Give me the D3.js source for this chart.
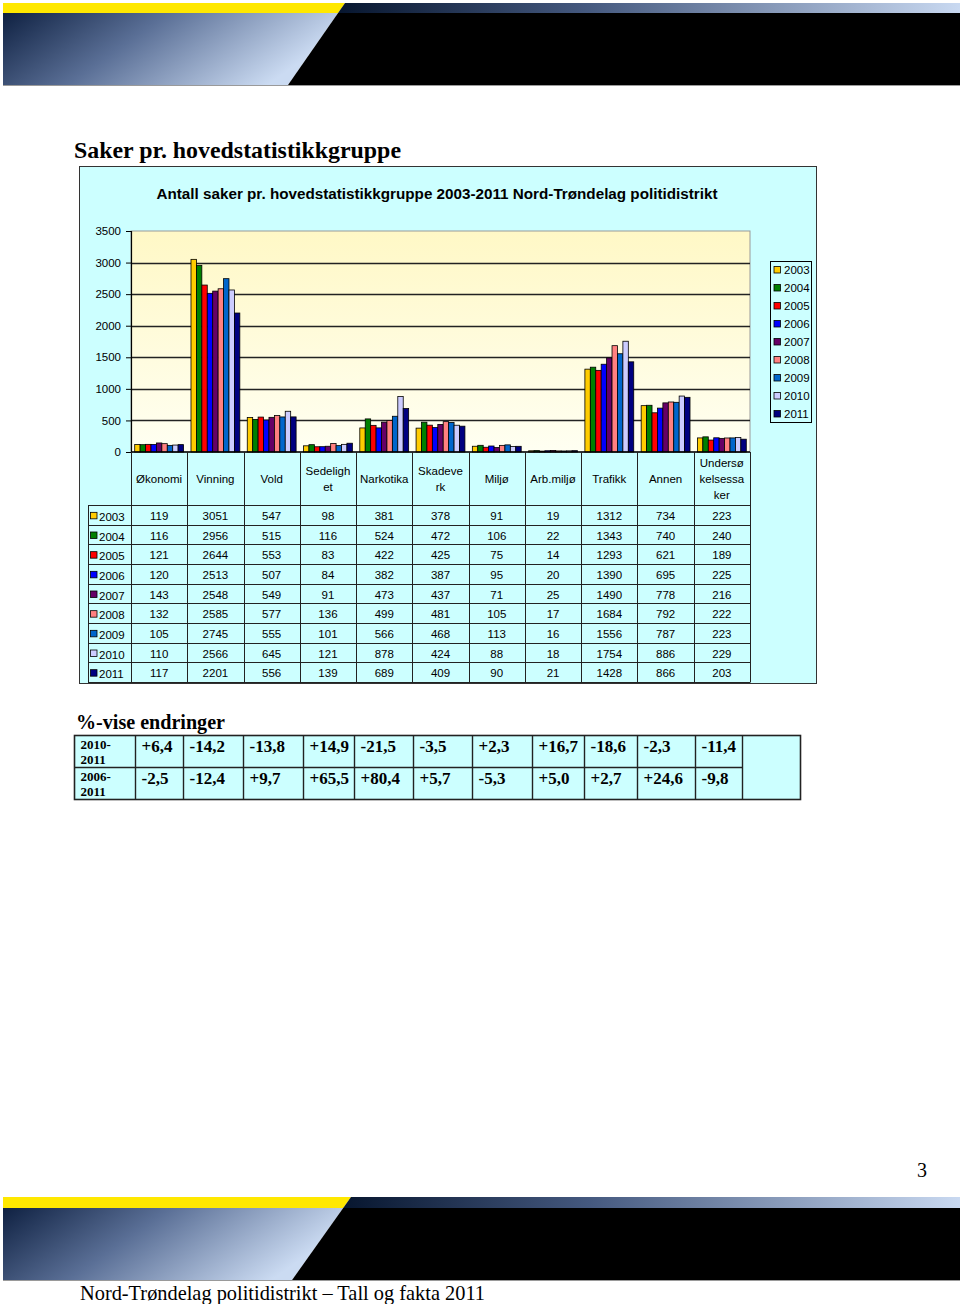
<!DOCTYPE html>
<html>
<head>
<meta charset="utf-8">
<script src="https://cdn.jsdelivr.net/npm/d3@7/dist/d3.min.js"></script>
<style>
  html, body { margin: 0; padding: 0; background: #ffffff; }
  svg { display: block; }
</style>
</head>
<body>
<svg id="page" width="960" height="1304"></svg>
<script>
// ---------------- DATA ----------------
const categories = ["Økonomi", "Vinning", "Vold", "Sedelighet", "Narkotika", "Skadeverk", "Miljø", "Arb.miljø", "Trafikk", "Annen", "Undersøkelsessaker"];
const categoryLabelLines = [["Økonomi"], ["Vinning"], ["Vold"], ["Sedeligh", "et"], ["Narkotika"], ["Skadeve", "rk"], ["Miljø"], ["Arb.miljø"], ["Trafikk"], ["Annen"], ["Undersø", "kelsessa", "ker"]];
const years = ["2003", "2004", "2005", "2006", "2007", "2008", "2009", "2010", "2011"];

const values2003 = [119, 3051, 547, 98, 381, 378, 91, 19, 1312, 734, 223];
const values2004 = [116, 2956, 515, 116, 524, 472, 106, 22, 1343, 740, 240];
const values2005 = [121, 2644, 553, 83, 422, 425, 75, 14, 1293, 621, 189];
const values2006 = [120, 2513, 507, 84, 382, 387, 95, 20, 1390, 695, 225];
const values2007 = [143, 2548, 549, 91, 473, 437, 71, 25, 1490, 778, 216];
const values2008 = [132, 2585, 577, 136, 499, 481, 105, 17, 1684, 792, 222];
const values2009 = [105, 2745, 555, 101, 566, 468, 113, 16, 1556, 787, 223];
const values2010 = [110, 2566, 645, 121, 878, 424, 88, 18, 1754, 886, 229];
const values2011 = [117, 2201, 556, 139, 689, 409, 90, 21, 1428, 866, 203];
const seriesValues = [values2003, values2004, values2005, values2006, values2007, values2008, values2009, values2010, values2011];

const yTicks = [0, 500, 1000, 1500, 2000, 2500, 3000, 3500];

const changePeriods = [["2010-", "2011"], ["2006-", "2011"]];
const changes2010to2011 = ["+6,4", "-14,2", "-13,8", "+14,9", "-21,5", "-3,5", "+2,3", "+16,7", "-18,6", "-2,3", "-11,4"];
const changes2006to2011 = ["-2,5", "-12,4", "+9,7", "+65,5", "+80,4", "+5,7", "-5,3", "+5,0", "+2,7", "+24,6", "-9,8"];
const changeRows = [changes2010to2011, changes2006to2011];

// ---------------- STYLES / LAYOUT ----------------
const yearColors = ["#FFCC00", "#008000", "#FF0000", "#0000FF", "#660066", "#FF8080", "#0066CC", "#CCCCFF", "#000080"];
const sans = "'Liberation Sans', Arial, sans-serif";
const serif = "'Liberation Serif', 'Times New Roman', serif";
const chartBg = "#CCFFFF";
const gridCol = "#222";

const svg = d3.select("#page");
const defs = svg.append("defs");

function lin(id, x1, y1, x2, y2, stops) {
  const g = defs.append("linearGradient").attr("id", id)
    .attr("x1", x1).attr("y1", y1).attr("x2", x2).attr("y2", y2);
  stops.forEach(s => g.append("stop").attr("offset", s[0]).attr("stop-color", s[1]));
}
lin("bodyGrad", "0%", "0%", "100%", "30%", [["0%", "#0f2142"], ["45%", "#5a6f96"], ["100%", "#cbdbf2"]]);
lin("stripGrad", "0%", "0%", "100%", "0%", [["0%", "#07162f"], ["40%", "#45597f"], ["100%", "#c9d9f1"]]);
lin("plotGrad", "0%", "0%", "0%", "100%", [["0%", "#FFF8C6"], ["100%", "#FFFFF2"]]);

// ---------------- BANNERS ----------------
function banner(yTop, yMid, yBot, xTop, slope) {
  const xAt = y => xTop - (y - yTop) * slope;
  const g = svg.append("g");
  g.append("polygon").attr("points", [[3, yTop], [xTop, yTop], [xAt(yMid), yMid], [3, yMid]].join(" ")).attr("fill", "#FFE800");
  g.append("polygon").attr("points", [[xTop, yTop], [960, yTop], [960, yMid], [xAt(yMid), yMid]].join(" ")).attr("fill", "url(#stripGrad)");
  g.append("polygon").attr("points", [[3, yMid], [xAt(yMid), yMid], [xAt(yBot), yBot], [3, yBot]].join(" ")).attr("fill", "url(#bodyGrad)");
  g.append("polygon").attr("points", [[xAt(yMid), yMid], [960, yMid], [960, yBot], [xAt(yBot), yBot]].join(" ")).attr("fill", "#000");
  g.append("line").attr("x1", 3).attr("x2", 960).attr("y1", yBot + 0.5).attr("y2", yBot + 0.5).attr("stroke", "#9a9a9a").attr("stroke-width", 1);
}
banner(3, 13, 85, 345, 0.695);
banner(1197, 1208, 1280, 351, 0.71);

// ---------------- PAGE TEXT ----------------
svg.append("text").attr("x", 74).attr("y", 158).attr("font-family", serif).attr("font-weight", "bold")
  .attr("font-size", 24).attr("textLength", 327).attr("lengthAdjust", "spacingAndGlyphs").text("Saker pr. hovedstatistikkgruppe");

svg.append("text").attr("x", 76).attr("y", 729).attr("font-family", serif).attr("font-weight", "bold")
  .attr("font-size", 20).attr("textLength", 149).attr("lengthAdjust", "spacingAndGlyphs").text("%-vise endringer");

svg.append("text").attr("x", 917).attr("y", 1177).attr("font-family", serif).attr("font-size", 20).text("3");

svg.append("text").attr("x", 80).attr("y", 1300).attr("font-family", serif).attr("font-size", 21)
  .attr("textLength", 405).attr("lengthAdjust", "spacingAndGlyphs").text("Nord-Trøndelag politidistrikt – Tall og fakta 2011");

// ---------------- CHART ----------------
const chart = { x: 79, y: 166, w: 737, h: 517 };
const plot = { left: 131, right: 750, top: 231, bottom: 452 };

svg.append("rect").attr("x", chart.x + 0.5).attr("y", chart.y + 0.5).attr("width", chart.w).attr("height", chart.h)
  .attr("fill", chartBg).attr("stroke", "#333").attr("stroke-width", 1);

svg.append("text").attr("x", 437).attr("y", 199).attr("text-anchor", "middle")
  .attr("font-family", sans).attr("font-weight", "bold").attr("font-size", 14)
  .attr("textLength", 561).attr("lengthAdjust", "spacingAndGlyphs")
  .text("Antall saker pr. hovedstatistikkgruppe 2003-2011 Nord-Trøndelag politidistrikt");

const y = d3.scaleLinear().domain([0, 3500]).range([plot.bottom, plot.top]);
const x0 = d3.scaleBand().domain(categories).range([plot.left, plot.right]).paddingInner(0).paddingOuter(0);
const bw = x0.bandwidth();
const x1 = d3.scaleBand().domain(years).range([bw * 0.066, bw * 0.934]).padding(0);

// plot area
svg.append("rect").attr("x", plot.left).attr("y", plot.top).attr("width", plot.right - plot.left)
  .attr("height", plot.bottom - plot.top).attr("fill", "url(#plotGrad)").attr("stroke", "#999").attr("stroke-width", 1);

// gridlines
svg.append("g").selectAll("line").data(yTicks.filter(d => d > 0 && d < 3500)).join("line")
  .attr("x1", plot.left).attr("x2", plot.right)
  .attr("y1", d => Math.round(y(d)) + 0.5).attr("y2", d => Math.round(y(d)) + 0.5)
  .attr("stroke", gridCol).attr("stroke-width", 1.3);

// y axis
const yAxis = d3.axisLeft(y).tickValues(yTicks).tickSize(5).tickPadding(5).tickFormat(d3.format("d"));
const yg = svg.append("g").attr("transform", `translate(${plot.left},0)`).call(yAxis);
yg.select(".domain").attr("stroke", "#000").attr("stroke-width", 1.2);
yg.selectAll(".tick line").attr("stroke", "#000");
yg.selectAll(".tick text").attr("font-family", sans).attr("font-size", 11.5).attr("fill", "#000");

// bars
const barData = [];
categories.forEach((c, ci) => years.forEach((yr, yi) => barData.push({ c, yr, yi, v: seriesValues[yi][ci] })));
svg.append("g").selectAll("rect").data(barData).join("rect")
  .attr("x", d => x0(d.c) + x1(d.yr))
  .attr("y", d => y(d.v))
  .attr("width", x1.bandwidth())
  .attr("height", d => y(0) - y(d.v))
  .attr("fill", d => yearColors[d.yi])
  .attr("stroke", "#000").attr("stroke-width", 0.8);

// zero line
svg.append("line").attr("x1", plot.left).attr("x2", plot.right).attr("y1", y(0)).attr("y2", y(0))
  .attr("stroke", "#000").attr("stroke-width", 1.4);

// ---------------- DATA TABLE ----------------
const tableTop = plot.bottom, headerBottom = 505, tableBottom = 682, legendLeft = 88;
const rowScale = d3.scaleBand().domain(years).range([headerBottom, tableBottom]);
const tg = svg.append("g");

// header labels
categoryLabelLines.forEach((lines, ci) => {
  const cx = x0(categories[ci]) + bw / 2;
  const midY = (tableTop + headerBottom) / 2 + 4;
  const lh = 16;
  lines.forEach((ln, li) => {
    tg.append("text").attr("x", cx).attr("y", midY + (li - (lines.length - 1) / 2) * lh)
      .attr("text-anchor", "middle").attr("font-family", sans).attr("font-size", 11.5).attr("fill", "#000").text(ln);
  });
});

// values
years.forEach((yr, yi) => {
  const cy = rowScale(yr) + rowScale.bandwidth() / 2 + 6;
  tg.append("rect").attr("x", legendLeft + 2.5).attr("y", cy - 8.5).attr("width", 6.5).attr("height", 6.5)
    .attr("fill", yearColors[yi]).attr("stroke", "#000").attr("stroke-width", 0.8);
  tg.append("text").attr("x", legendLeft + 11).attr("y", cy).attr("font-family", sans).attr("font-size", 11.5).text(yr);
  categories.forEach((c, ci) => {
    tg.append("text").attr("x", x0(c) + bw / 2).attr("y", cy - 1).attr("text-anchor", "middle")
      .attr("font-family", sans).attr("font-size", 11.5).text(seriesValues[yi][ci]);
  });
});

// grid lines of table
const lineStyle = sel => sel.attr("stroke", gridCol).attr("stroke-width", 1);
[headerBottom, ...years.map(yr => rowScale(yr) + rowScale.bandwidth())].forEach(yy => {
  lineStyle(tg.append("line").attr("x1", legendLeft).attr("x2", plot.right).attr("y1", Math.round(yy) + 0.5).attr("y2", Math.round(yy) + 0.5));
});
categories.forEach(c => {
  lineStyle(tg.append("line").attr("x1", Math.round(x0(c)) + 0.5).attr("x2", Math.round(x0(c)) + 0.5).attr("y1", tableTop).attr("y2", tableBottom + 0.5));
});
lineStyle(tg.append("line").attr("x1", plot.right + 0.5).attr("x2", plot.right + 0.5).attr("y1", tableTop).attr("y2", tableBottom + 0.5));
lineStyle(tg.append("line").attr("x1", legendLeft + 0.5).attr("x2", legendLeft + 0.5).attr("y1", headerBottom).attr("y2", tableBottom + 0.5));

// ---------------- LEGEND ----------------
const lg = svg.append("g");
lg.append("rect").attr("x", 770.5).attr("y", 261.5).attr("width", 41).attr("height", 161)
  .attr("fill", chartBg).attr("stroke", "#000").attr("stroke-width", 1);
const legendY = d3.scalePoint().domain(years).range([270, 414]);
years.forEach((yr, yi) => {
  lg.append("rect").attr("x", 774).attr("y", legendY(yr) - 3.5).attr("width", 6.5).attr("height", 6.5)
    .attr("fill", yearColors[yi]).attr("stroke", "#000").attr("stroke-width", 0.8);
  lg.append("text").attr("x", 784).attr("y", legendY(yr) + 4).attr("font-family", sans).attr("font-size", 11.5).text(yr);
});

// ---------------- PERCENT CHANGE TABLE ----------------
const colEdges = [74.5, 135.5, 183.5, 243.5, 303.5, 354.5, 413.5, 472.5, 532.5, 584.5, 637.5, 695.5, 742.5, 800.5];
const pTop = 735.5, pMid = 767.5, pBot = 799.5;
const pg = svg.append("g");
pg.append("rect").attr("x", colEdges[0]).attr("y", pTop).attr("width", colEdges[13] - colEdges[0]).attr("height", pBot - pTop)
  .attr("fill", chartBg).attr("stroke", "#222").attr("stroke-width", 1.6);
pg.append("line").attr("x1", colEdges[0]).attr("x2", colEdges[12]).attr("y1", pMid).attr("y2", pMid).attr("stroke", "#222").attr("stroke-width", 1.4);
colEdges.slice(1, 13).forEach(xx => {
  pg.append("line").attr("x1", xx).attr("x2", xx).attr("y1", pTop).attr("y2", pBot).attr("stroke", "#222").attr("stroke-width", 1.4);
});
const rowTops = [pTop, pMid];
changePeriods.forEach((lines, ri) => {
  pg.append("text").attr("x", colEdges[0] + 6).attr("y", rowTops[ri] + 13).attr("font-family", serif).attr("font-weight", "bold").attr("font-size", 13).text(lines[0]);
  pg.append("text").attr("x", colEdges[0] + 6).attr("y", rowTops[ri] + 28).attr("font-family", serif).attr("font-weight", "bold").attr("font-size", 13).text(lines[1]);
  changeRows[ri].forEach((val, ci) => {
    pg.append("text").attr("x", colEdges[ci + 1] + 6).attr("y", rowTops[ri] + 16)
      .attr("font-family", serif).attr("font-weight", "bold").attr("font-size", 17).text(val);
  });
});
</script>
</body>
</html>
